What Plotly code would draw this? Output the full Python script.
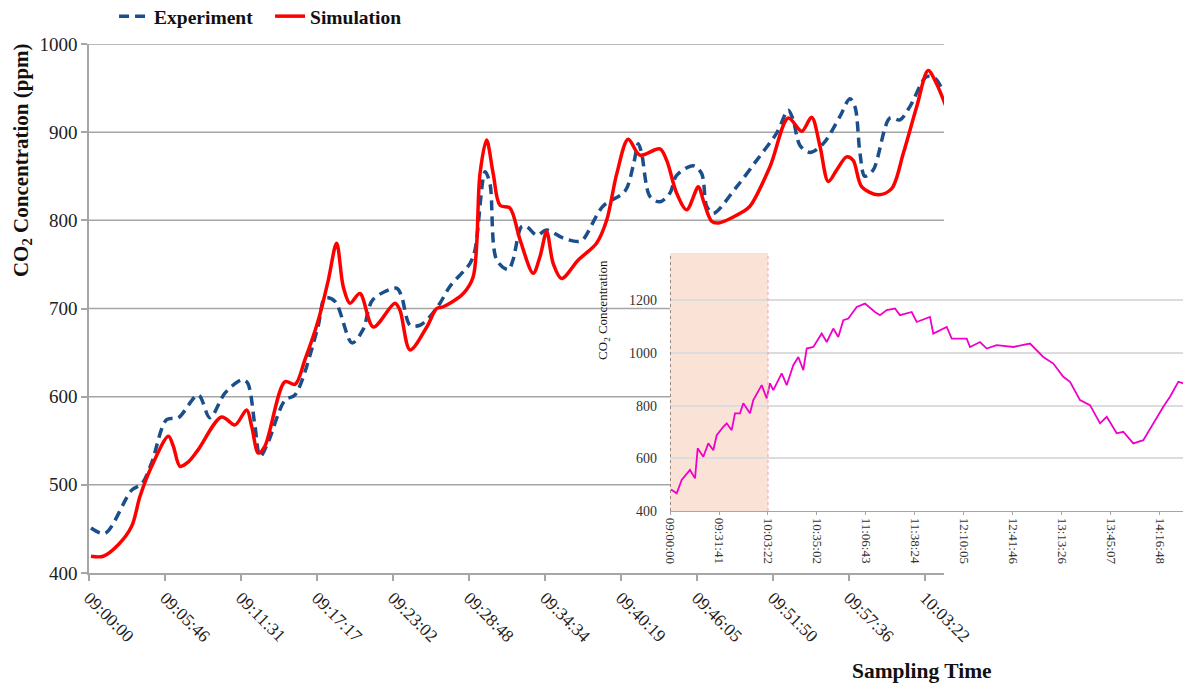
import plotly.graph_objects as go

# ---------------- data ----------------
# main chart: seconds elapsed since 09:00:00
exp_t = [9, 73, 194, 240, 285, 353, 406, 497, 550, 618, 694, 720, 755, 778, 814, 891, 937,
         1041, 1073, 1119, 1196, 1246, 1291, 1399, 1421, 1460, 1505, 1551, 1596, 1641, 1732,
         1755, 1801, 1823, 1854, 1907, 1928, 1967, 1990, 2036, 2081, 2155, 2223, 2246, 2337,
         2437, 2474, 2498, 2513, 2551, 2596, 2642, 2672, 2748, 2786, 2809, 2839, 2945, 3036,
         3127, 3180, 3202, 3233, 3278, 3339, 3415, 3460, 3483, 3506, 3528, 3566, 3642, 3688,
         3733, 3809, 3847, 3885]
exp_ppm = [451, 445, 494, 501, 525, 574, 576, 602, 576, 604, 619, 616, 566, 532, 548, 596, 602,
           679, 712, 708, 661, 676, 710, 723, 714, 681, 681, 691, 706, 725, 751,
           766, 855, 842, 755, 744, 755, 793, 793, 783, 789, 780, 776, 778, 816,
           833, 861, 887, 876, 827, 821, 831, 851, 862, 853, 816, 808, 838, 868,
           899, 925, 914, 885, 877, 887, 918, 938, 929, 876, 850, 857, 916, 914,
           929, 963, 961, 946]

sim_t = [9, 65, 133, 194, 232, 285, 361, 383, 414, 452, 497, 603, 664, 717, 740, 770, 800, 891,
         937, 982, 1043, 1088, 1126, 1156, 1187, 1232, 1293, 1391, 1414, 1460, 1536, 1581, 1611,
         1702, 1747, 1778, 1808, 1838, 1869, 1914, 1960, 2020, 2051, 2081, 2111, 2149, 2225,
         2308, 2354, 2400, 2452, 2505, 2596, 2627, 2672, 2718, 2771, 2793, 2831, 2862, 2975,
         3006, 3097, 3180, 3241, 3286, 3324, 3362, 3400, 3445, 3475, 3514, 3589, 3650, 3703,
         3764, 3816, 3854, 3900]
sim_ppm = [419, 419, 432, 453, 487, 521, 555, 544, 521, 526, 540, 577, 568, 585, 566, 536, 544, 617,
           614, 642, 687, 732, 774, 725, 706, 717, 679, 706, 698, 653, 679, 700, 702,
           717, 736, 853, 891, 853, 817, 814, 778, 740, 759, 787, 751, 734, 755,
           774, 800, 853, 892, 874, 881, 868, 831, 812, 838, 823, 799, 797, 810,
           816, 861, 916, 901, 917, 884, 844, 857, 872, 868, 838, 829, 836, 876,
           929, 970, 955, 927]

main_tickvals = [0, 346, 691, 1037, 1382, 1728, 2074, 2419, 2765, 3110, 3456, 3802]
main_ticktext = ["09:00:00", "09:05:46", "09:11:31", "09:17:17", "09:23:02", "09:28:48",
                 "09:34:34", "09:40:19", "09:46:05", "09:51:50", "09:57:36", "10:03:22"]
main_grid_full = [800, 900, 1000]
main_grid_short = [500, 600, 700]

# inset chart: seconds elapsed since 09:00:00
ins_t = [39, 260, 454, 776, 970, 1075, 1292, 1486, 1680, 1812, 2068, 2200, 2394, 2522, 2716,
         2844, 3104, 3232, 3558, 3752, 3880, 4008, 4334, 4528, 4784, 4978, 5172, 5304, 5560,
         5886, 6080, 6336, 6530, 6724, 6918, 7244, 7566, 7954, 8148, 8408, 8730, 8924, 9378,
         9572, 10088, 10216, 10736, 10930, 11512, 11640, 12028, 12288, 12676, 13320, 13968,
         14228, 14484, 14872, 15260, 15520, 15908, 16296, 16684, 16944, 17332, 17588, 17976,
         18364, 18752, 19140, 19400, 19722, 19904]
ins_ppm = [482, 467, 518, 556, 524, 638, 606, 657, 631, 688, 720, 733, 707, 771, 771,
           809, 771, 821, 878, 828, 885, 859, 923, 878, 954, 985, 935, 1017, 1023,
           1074, 1042, 1093, 1061, 1125, 1131, 1175, 1188, 1156, 1144, 1163, 1169, 1144, 1156,
           1118, 1137, 1074, 1099, 1055, 1055, 1023, 1042, 1017, 1030, 1023, 1036,
           1011, 985, 960, 910, 891, 821, 802, 733, 758, 695, 701, 657,
           669, 733, 796, 834, 891, 885]

ins_tickvals = [0, 1901, 3802, 5702, 7603, 9504, 11405, 13306, 15206, 17107, 19008]
ins_ticktext = ["09:00:00", "09:31:41", "10:03:22", "10:35:02", "11:06:43", "11:38:24",
                "12:10:05", "12:41:46", "13:13:26", "13:45:07", "14:16:48"]
shade_end = 3802

SERIF = "Liberation Serif, Times New Roman, serif"
X_MAIN_MAX = 3888
X_INSET_START = 2642  # main-axis position where the inset begins

fig = go.Figure()
fig.add_trace(go.Scatter(x=exp_t, y=exp_ppm, mode="lines", name="Experiment",
                         line=dict(color="#1a4f8b", width=3.5, dash="10px,6px",
                                   shape="spline", smoothing=0.9),
                         xaxis="x", yaxis="y"))
fig.add_trace(go.Scatter(x=sim_t, y=sim_ppm, mode="lines", name="Simulation",
                         line=dict(color="#ff0000", width=3.5, shape="spline", smoothing=0.9),
                         xaxis="x", yaxis="y"))
fig.add_trace(go.Scatter(x=ins_t, y=ins_ppm, mode="lines", showlegend=False,
                         line=dict(color="#f000c8", width=1.8),
                         xaxis="x2", yaxis="y2"))

shapes = []
for g in main_grid_full:
    shapes.append(dict(type="line", xref="x", yref="y", x0=0, x1=X_MAIN_MAX, y0=g, y1=g,
                       line=dict(color="#a6a6a6", width=1.5), layer="below"))
for g in main_grid_short:
    shapes.append(dict(type="line", xref="x", yref="y", x0=0, x1=X_INSET_START, y0=g, y1=g,
                       line=dict(color="#a6a6a6", width=1.5), layer="below"))
shapes += [
    dict(type="rect", xref="x2", yref="y2", x0=0, x1=shade_end, y0=400, y1=1380,
         fillcolor="#fbe2d6", line=dict(width=0), layer="below"),
    dict(type="line", xref="x2", yref="y2", x0=shade_end, x1=shade_end, y0=400, y1=1380,
         line=dict(color="#f2a0a8", width=1, dash="dot"), layer="above"),
    dict(type="line", xref="x2", yref="y2", x0=0, x1=0, y0=400, y1=1380,
         line=dict(color="#333333", width=1, dash="dot"), layer="above"),
]

fig.update_layout(
    width=1183, height=685,
    margin=dict(l=89, r=0, t=44, b=112, autoexpand=False),
    paper_bgcolor="white", plot_bgcolor="rgba(0,0,0,0)",
    font=dict(family=SERIF, color="#222"),
    showlegend=True,
    legend=dict(orientation="h", x=0.0229, y=1.0889, xanchor="left", yanchor="top",
                font=dict(family=SERIF, size=19.5, color="#111", weight="bold"),
                entrywidth=111, bgcolor="rgba(0,0,0,0)"),
    xaxis=dict(domain=[0, 0.78154], range=[0, X_MAIN_MAX], anchor="y", automargin=False,
               tickvals=main_tickvals, ticktext=main_ticktext, tickangle=45,
               tickfont=dict(family=SERIF, size=17.5, color="#222"),
               showgrid=False, zeroline=False, showline=True, linecolor="#a6a6a6", linewidth=1.5,
               ticks="outside", ticklen=6, tickcolor="#a6a6a6", tickwidth=1.5),
    yaxis=dict(domain=[0, 1], range=[400, 1000], anchor="x", automargin=False,
               tickvals=[400, 500, 600, 700, 800, 900, 1000],
               tickfont=dict(family=SERIF, size=19, color="#222"),
               showgrid=False, zeroline=False,
               showline=True, linecolor="#a6a6a6", linewidth=1.5,
               ticks="outside", ticklen=6, tickcolor="#a6a6a6", tickwidth=1.5),
    xaxis2=dict(domain=[0.53108, 1.0], range=[0, 19904], anchor="y2", automargin=False,
                tickvals=ins_tickvals, ticktext=ins_ticktext, tickangle=90,
                tickfont=dict(family=SERIF, size=13, color="#333"),
                showgrid=False, zeroline=False, showline=True, linecolor="#a6a6a6", linewidth=1.2,
                ticks="outside", ticklen=3, tickcolor="#a6a6a6"),
    yaxis2=dict(domain=[0.1172, 0.6049], range=[400, 1380], anchor="x2", automargin=False,
                tickvals=[400, 600, 800, 1000, 1200],
                tickfont=dict(family=SERIF, size=14, color="#333"),
                showgrid=True, gridcolor="#dcdcdc", gridwidth=1.5, zeroline=False,
                showline=False, ticks="", ticklabelstandoff=12),
    shapes=shapes,
    annotations=[
        dict(text="CO<sub>2</sub> Concentration (ppm)", xref="paper", yref="paper",
             x=-0.0612, y=0.7807, xanchor="center", yanchor="middle",
             textangle=-90, showarrow=False,
             font=dict(family=SERIF, size=21, color="#111", weight="bold")),
        dict(text="Sampling Time", xref="paper", yref="paper",
             x=0.7614, y=-0.1853, xanchor="center", yanchor="middle", showarrow=False,
             font=dict(family=SERIF, size=21.5, color="#111", weight="bold")),
        dict(text="CO<sub>2</sub> Concentration", xref="paper", yref="paper",
             x=0.4707, y=0.4972, xanchor="center", yanchor="middle",
             textangle=-90, showarrow=False,
             font=dict(family=SERIF, size=13, color="#111")),
    ],
)

fig.write_html("out.html", config={"displayModeBar": False},
               post_script="document.body.style.margin='0';")
